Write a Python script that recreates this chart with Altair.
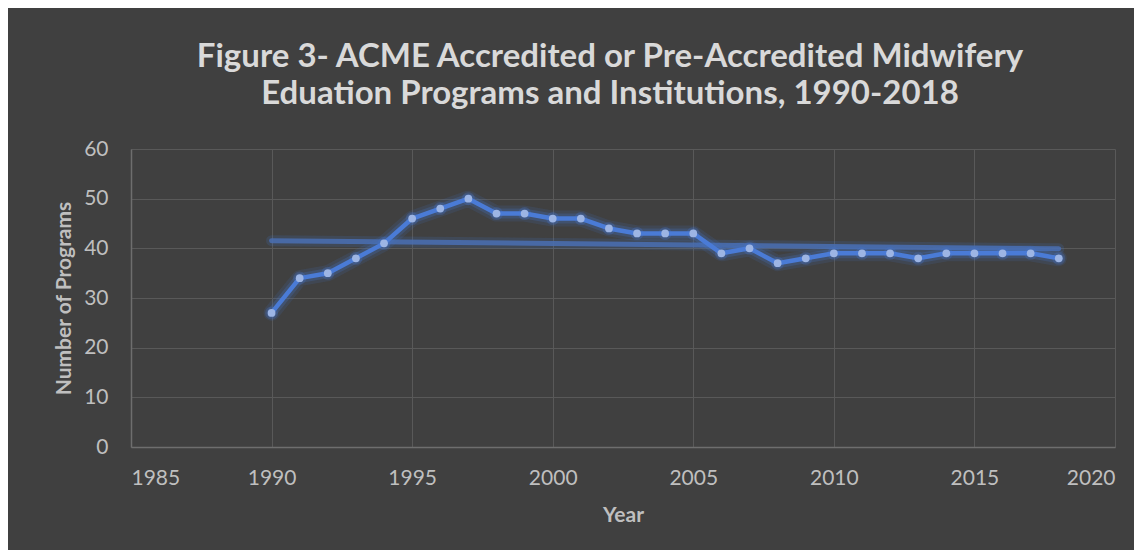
import altair as alt
import pandas as pd

years = list(range(1990, 2019))
programs = [27, 34, 35, 38, 41, 46, 48, 50, 47, 47, 46, 46, 44, 43, 43, 43,
            39, 40, 37, 38, 39, 39, 39, 38, 39, 39, 39, 39, 38]

title_lines = ["Figure 3- ACME Accredited or Pre-Accredited Midwifery",
               "Eduation Programs and Institutions, 1990-2018"]
x_ticks = [1985, 1990, 1995, 2000, 2005, 2010, 2015, 2020]
y_ticks = [0, 10, 20, 30, 40, 50, 60]

df = pd.DataFrame({"Year": years, "Programs": programs})

FONT = "Lato"
BG = "#404040"
W, H = 984, 298

x_enc = alt.X("Year:Q", scale=alt.Scale(domain=[1985, 2020], nice=False, zero=False),
              axis=alt.Axis(values=x_ticks, format="d", title="Year",
                            titleX=W / 2, titleY=68, titleBaseline="middle",
                            titleAlign="center", titleAngle=0))
y_enc = alt.Y("Programs:Q", scale=alt.Scale(domain=[0, 60], nice=False),
              axis=alt.Axis(values=y_ticks, title="Number of Programs",
                            titleX=-67, titleY=H / 2, titleAngle=270,
                            titleBaseline="middle", titleAlign="center"))

base = alt.Chart(df)

trend_glow = base.transform_regression("Year", "Programs", extent=[1990, 2018]).mark_line(
    color="#4472c4", strokeWidth=11, opacity=0.18, strokeCap="round"
).encode(x=x_enc, y=y_enc)
trend = base.transform_regression("Year", "Programs", extent=[1990, 2018]).mark_line(
    color="#4a6fb3", strokeWidth=5, opacity=0.85, strokeCap="round"
).encode(x=x_enc, y=y_enc)

glow1 = base.mark_line(color="#4472c4", strokeWidth=16, opacity=0.15,
                       strokeJoin="round", strokeCap="round").encode(x=x_enc, y=y_enc)
glow2 = base.mark_line(color="#4472c4", strokeWidth=10, opacity=0.25,
                       strokeJoin="round", strokeCap="round").encode(x=x_enc, y=y_enc)
line = base.mark_line(color="#4a7bd6", strokeWidth=4.5, strokeJoin="round",
                      strokeCap="round").encode(x=x_enc, y=y_enc)
pts_glow = base.mark_point(filled=True, color="#4472c4", size=170, opacity=0.3).encode(x=x_enc, y=y_enc)
pts = base.mark_point(filled=True, color="#9db5e4", size=60, opacity=1).encode(x=x_enc, y=y_enc)

chart = alt.layer(trend_glow, trend, glow1, glow2, pts_glow, line, pts).properties(
    width=W, height=H,
    background=BG,
    autosize=alt.AutoSizeParams(type="none"),
    padding={"left": 123, "top": 141, "right": 19, "bottom": 103},
    title=alt.TitleParams(title_lines, anchor="middle", dx=-13, offset=27,
                          font=FONT, fontSize=33, fontWeight="bold",
                          color="#d9d9d9", lineHeight=37),
).configure_view(stroke=None).configure_axis(
    labelFont=FONT, labelFontSize=21, labelColor="#bfbfbf",
    titleFont=FONT, titleFontSize=21, titleFontWeight="bold", titleColor="#bfbfbf",
    gridColor="#595959", gridWidth=1, domainColor="#6e6e6e", domainWidth=1.5,
    ticks=False,
).configure_axisX(labelPadding=20).configure_axisY(labelPadding=23)

chart.save("out.html", embed_options={"renderer": "svg", "actions": False})
